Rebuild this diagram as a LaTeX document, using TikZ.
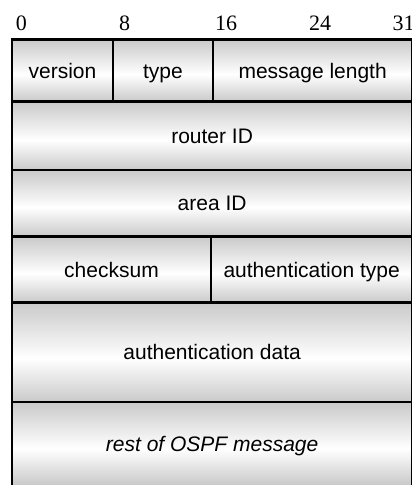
\documentclass[tikz,border=0pt]{standalone}
\usepackage{fontspec}
\setmainfont{Liberation Sans}
\newfontfamily\numfont{Liberation Serif}

% soft metallic fill of the header fields: grey at the edges, white just below the middle
\definecolor{shadeedge}{gray}{0.79}
\pgfdeclareverticalshading{fieldshade}{100bp}{%
  color(0bp)=(shadeedge); color(25bp)=(shadeedge);
  color(47bp)=(white);
  color(75bp)=(shadeedge); color(100bp)=(shadeedge)}

\tikzset{
  field/.style={shade, shading=fieldshade, draw=black, line width=2.2pt,
    inner sep=0pt, outer sep=0pt, anchor=north west,
    font=\fontsize{21}{25}\selectfont, text height=15pt, text depth=0pt},
  bitnum/.style={anchor=base, inner sep=0pt, font=\numfont\fontsize{22}{26}\selectfont},
  edge/.style={draw=black, line width=2.2pt}
}

\begin{document}
\begin{tikzpicture}[x=1pt, y=-1pt]
  \useasboundingbox (0,0) rectangle (412,485);
  \clip (0,0) rectangle (412,485);
  \fill[white] (0,0) rectangle (412,485);

  % bit positions
  \node[bitnum] (b0)  at (21.5,30)  {0};
  \node[bitnum] (b8)  at (124.5,30) {8};
  \node[bitnum] (b16) at (226,30)   {16};
  \node[bitnum] (b24) at (320,30)   {24};
  \node[bitnum] (b31) at (403.5,30) {31};

  % OSPF header fields
  \node[field, minimum width=101pt,   minimum height=62pt] (version) at (12,39.5)  {version};
  \node[field, minimum width=100pt,   minimum height=62pt] (type)    at (113,39.5) {type};
  \node[field, minimum width=199.3pt, minimum height=62pt] (msglen)  at (213,39.5) {message length};

  \node[field, minimum width=400.3pt, minimum height=68.5pt] (router) at (12,101.5) {router ID};
  \node[field, minimum width=400.3pt, minimum height=66.5pt] (area)   at (12,170)   {area ID};

  \node[field, minimum width=199pt,   minimum height=66pt] (checksum) at (12,236.5)  {checksum};
  \node[field, minimum width=201.3pt, minimum height=66pt] (authtype) at (211,236.5) {authentication type};

  \node[field, minimum width=400.3pt, minimum height=99.5pt] (authdata) at (12,302.5) {authentication data};

  % open-ended remainder of the message
  \node[field, draw=none, minimum width=400.3pt, minimum height=83pt] (rest) at (12,402)
    {\itshape rest of OSPF message};
  \draw[edge] (rest.south west) -- (rest.north west) -- (rest.north east) -- (rest.south east);
\end{tikzpicture}
\end{document}
